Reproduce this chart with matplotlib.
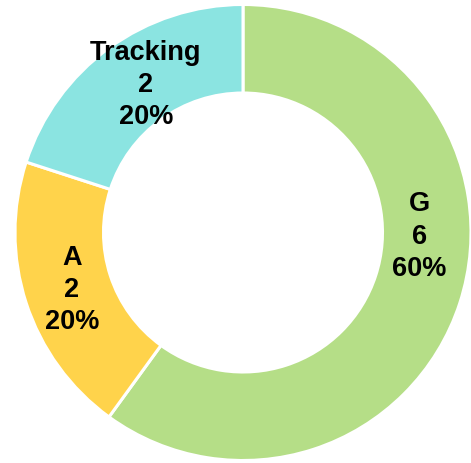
import numpy as np
import matplotlib
matplotlib.use("Agg")
import matplotlib.pyplot as plt

# data
labels = ["G", "A", "Tracking"]
counts = [6, 2, 2]
colors = ["#b5de87", "#ffd34b", "#8be4e1"]

# label placement (angle in degrees, radius as fraction of outer radius)
label_angles = [-1.1, 198.3, 123.2]
label_radius = [0.775, 0.79, 0.778]

plt.rcParams["font.family"] = ["Liberation Sans", "DejaVu Sans"]

fig = plt.figure(figsize=(4.71, 4.64), dpi=100)
ax = fig.add_axes([15 / 471, 2.5 / 464, 456 / 471, 456 / 464])

inner = 139.5 / 228
wedges, _ = ax.pie(
    counts,
    colors=colors,
    startangle=90,
    counterclock=False,
    radius=1.0,
    wedgeprops=dict(width=1 - inner, edgecolor="white", linewidth=2.2),
)

total = sum(counts)
for lab, n, ang, r in zip(labels, counts, label_angles, label_radius):
    t = np.deg2rad(ang)
    pct = round(n / total * 100)
    ax.text(r * np.cos(t), r * np.sin(t), f"{lab}\n{n}\n{pct}%",
            ha="center", va="center", fontsize=19.5, fontweight="bold",
            color="black", linespacing=1.32)

ax.set_xlim(-1, 1)
ax.set_ylim(-1, 1)
ax.set_aspect("equal")
ax.axis("off")

fig.savefig("out.png", dpi=100)
